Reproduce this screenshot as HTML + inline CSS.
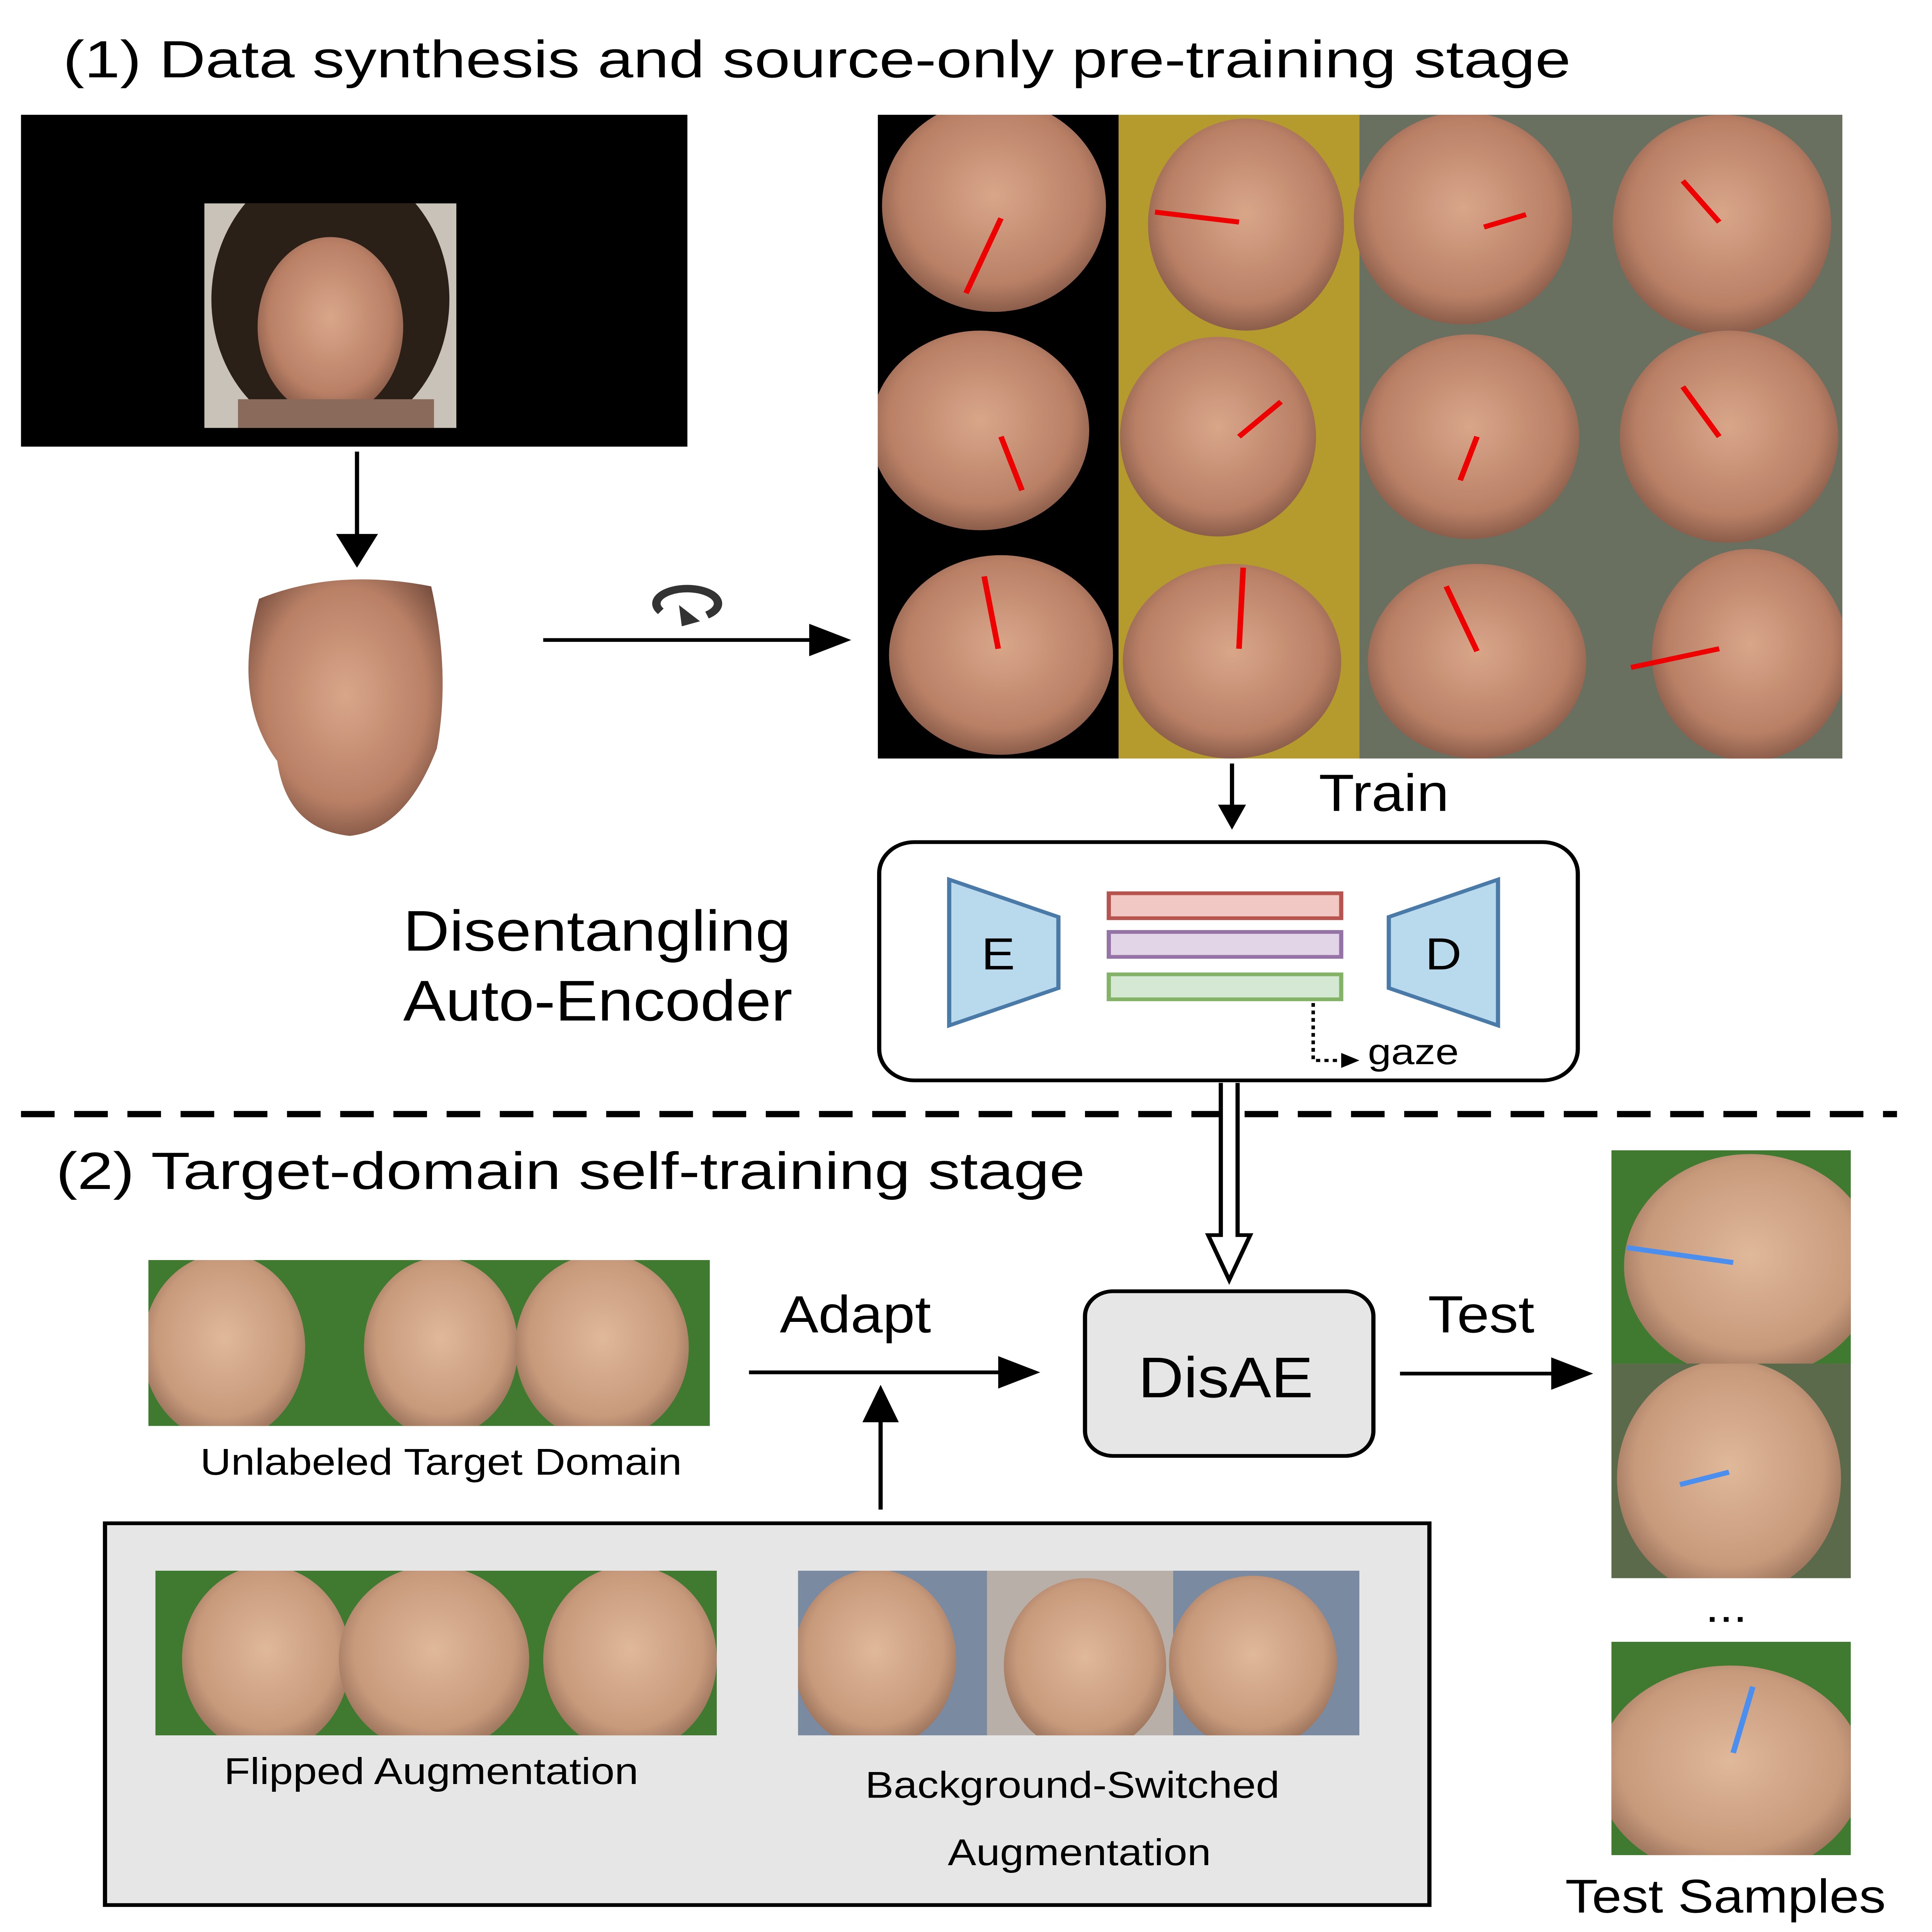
<!DOCTYPE html>
<html><head><meta charset="utf-8"><style>
html,body{margin:0;padding:0;background:#fff;overflow:hidden;width:100%;height:100%}
svg{display:block;position:absolute;left:0;top:0;width:100vw;height:100vh}
text{font-family:"Liberation Sans",Arial,sans-serif;fill:#000}
</style></head><body>
<svg viewBox="0 0 1380 1548.6" preserveAspectRatio="none" xmlns="http://www.w3.org/2000/svg">
<defs>
<radialGradient id="skin" cx="50%" cy="45%" r="60%"><stop offset="0" stop-color="#d9a68a"/><stop offset="0.7" stop-color="#b98066"/><stop offset="1" stop-color="#7a5040"/></radialGradient>
<radialGradient id="skin2" cx="50%" cy="45%" r="60%"><stop offset="0" stop-color="#e0b89a"/><stop offset="0.7" stop-color="#c89a7c"/><stop offset="1" stop-color="#8a6650"/></radialGradient>
<clipPath id="cg"><rect x="627" y="92" width="689" height="516"/></clipPath>
<clipPath id="cu"><rect x="106" y="1010" width="401" height="133"/></clipPath>
<clipPath id="cf"><rect x="111" y="1259" width="401" height="132"/></clipPath>
<clipPath id="cb"><rect x="570" y="1259" width="401" height="132"/></clipPath>
<clipPath id="ct1"><rect x="1151" y="922" width="171" height="171"/></clipPath>
<clipPath id="ct2"><rect x="1151" y="1093" width="171" height="172"/></clipPath>
<clipPath id="ct3"><rect x="1151" y="1316" width="171" height="171"/></clipPath>
<clipPath id="cp"><rect x="146" y="163" width="180" height="180"/></clipPath>
</defs>
<rect width="1380" height="1549" fill="#fff"/>
<text x="45" y="62" font-size="42" textLength="1077" lengthAdjust="spacingAndGlyphs">(1) Data synthesis and source-only pre-training stage</text>
<rect x="15" y="92" width="476" height="266" fill="#000"/>
<g clip-path="url(#cp)">
<rect x="146" y="163" width="180" height="180" fill="#c9c2b8"/>
<ellipse cx="236" cy="240" rx="85" ry="110" fill="#2a2018"/>
<ellipse cx="236" cy="262" rx="52" ry="72" fill="url(#skin)"/>
<rect x="170" y="320" width="140" height="30" fill="#8a6a5a"/>
</g>
<line x1="255" y1="362" x2="255" y2="440" stroke="#000" stroke-width="3"/>
<path d="M240,428 L255,455 L270,428 Z" fill="#000"/>
<path d="M185,480 Q240,455 308,470 Q322,540 312,600 Q290,665 250,670 Q205,665 198,610 Q165,560 185,480 Z" fill="url(#skin)"/>
<line x1="388" y1="513" x2="590" y2="513" stroke="#000" stroke-width="3"/>
<path d="M578,500 L608,513 L578,526 Z" fill="#000"/>
<path d="M472,490 A22,12 0 1 1 505,493" fill="none" stroke="#333" stroke-width="6"/>
<path d="M485,485 L500,498 L487,502 Z" fill="#333"/>
<g clip-path="url(#cg)">
<rect x="627" y="92" width="172" height="516" fill="#000"/>
<rect x="799" y="92" width="172" height="516" fill="#b59a2e"/>
<rect x="971" y="92" width="345" height="516" fill="#6a7060"/>
<g fill="url(#skin)">
<ellipse cx="710" cy="165" rx="80" ry="85"/>
<ellipse cx="700" cy="345" rx="78" ry="80"/>
<ellipse cx="715" cy="525" rx="80" ry="80"/>
<ellipse cx="890" cy="180" rx="70" ry="85"/>
<ellipse cx="870" cy="350" rx="70" ry="80"/>
<ellipse cx="880" cy="530" rx="78" ry="78"/>
<ellipse cx="1045" cy="175" rx="78" ry="85"/>
<ellipse cx="1050" cy="350" rx="78" ry="82"/>
<ellipse cx="1055" cy="530" rx="78" ry="78"/>
<ellipse cx="1230" cy="180" rx="78" ry="88"/>
<ellipse cx="1235" cy="350" rx="78" ry="85"/>
<ellipse cx="1250" cy="525" rx="70" ry="85"/>
</g>
<g stroke="#e00" stroke-width="4" fill="none">
<line x1="715" y1="175" x2="690" y2="235"/>
<line x1="885" y1="178" x2="825" y2="170"/>
<line x1="1060" y1="182" x2="1090" y2="172"/>
<line x1="1228" y1="178" x2="1202" y2="145"/>
<line x1="715" y1="350" x2="730" y2="393"/>
<line x1="885" y1="350" x2="915" y2="322"/>
<line x1="1055" y1="350" x2="1043" y2="385"/>
<line x1="1228" y1="350" x2="1202" y2="310"/>
<line x1="713" y1="520" x2="703" y2="462"/>
<line x1="885" y1="520" x2="888" y2="455"/>
<line x1="1055" y1="522" x2="1033" y2="470"/>
<line x1="1228" y1="520" x2="1165" y2="535"/>
</g>
</g>
<line x1="880" y1="612" x2="880" y2="652" stroke="#000" stroke-width="3"/>
<path d="M870,645 L880,665 L890,645 Z" fill="#000"/>
<text x="942" y="650" font-size="42" textLength="93" lengthAdjust="spacingAndGlyphs">Train</text>
<rect x="628" y="675" width="499" height="191" rx="25" fill="#fff" stroke="#000" stroke-width="3"/>
<path d="M678,705 L756,735 L756,792 L678,822 Z" fill="#b9d9ec" stroke="#4a7aa8" stroke-width="3"/>
<text x="713" y="777" font-size="36" text-anchor="middle">E</text>
<path d="M1070,705 L992,735 L992,792 L1070,822 Z" fill="#b9d9ec" stroke="#4a7aa8" stroke-width="3"/>
<text x="1031" y="777" font-size="36" text-anchor="middle">D</text>
<rect x="792" y="716" width="166" height="20" fill="#f2c8c4" stroke="#b85450" stroke-width="3"/>
<rect x="792" y="747" width="166" height="20" fill="#e1d5e7" stroke="#9673a6" stroke-width="3"/>
<rect x="792" y="781" width="166" height="20" fill="#d5e8d4" stroke="#82b366" stroke-width="3"/>
<path d="M938,804 L938,850 L960,850" fill="none" stroke="#000" stroke-width="2.5" stroke-dasharray="3,3"/>
<path d="M958,844 L971,850 L958,856 Z" fill="#000"/>
<text x="977" y="853" font-size="29" textLength="65" lengthAdjust="spacingAndGlyphs">gaze</text>
<text x="288" y="762" font-size="46" textLength="277" lengthAdjust="spacingAndGlyphs">Disentangling</text>
<text x="288" y="818" font-size="46" textLength="278" lengthAdjust="spacingAndGlyphs">Auto-Encoder</text>
<line x1="15" y1="893" x2="1355" y2="893" stroke="#000" stroke-width="5" stroke-dasharray="24,14"/>
<text x="40" y="953" font-size="42" textLength="735" lengthAdjust="spacingAndGlyphs">(2) Target-domain self-training stage</text>
<path d="M872,868 L872,990 L863,990 L878,1026 L893,990 L884,990 L884,868" fill="#fff" stroke="#000" stroke-width="3"/>
<g clip-path="url(#cu)">
<rect x="106" y="1010" width="401" height="133" fill="#3f7a30"/>
<ellipse cx="160" cy="1080" rx="58" ry="75" fill="url(#skin2)"/>
<ellipse cx="315" cy="1080" rx="55" ry="72" fill="url(#skin2)"/>
<ellipse cx="430" cy="1080" rx="62" ry="75" fill="url(#skin2)"/>
</g>
<text x="143" y="1182" font-size="30" textLength="344" lengthAdjust="spacingAndGlyphs">Unlabeled Target Domain</text>
<line x1="535" y1="1100" x2="725" y2="1100" stroke="#000" stroke-width="3"/>
<path d="M713,1087 L743,1100 L713,1113 Z" fill="#000"/>
<text x="557" y="1068" font-size="42" textLength="108" lengthAdjust="spacingAndGlyphs">Adapt</text>
<line x1="629" y1="1210" x2="629" y2="1130" stroke="#000" stroke-width="3"/>
<path d="M616,1140 L629,1110 L642,1140 Z" fill="#000"/>
<rect x="775" y="1035" width="206" height="132" rx="20" fill="#e6e6e6" stroke="#000" stroke-width="3"/>
<text x="813" y="1120" font-size="46" textLength="125" lengthAdjust="spacingAndGlyphs">DisAE</text>
<line x1="1000" y1="1101" x2="1120" y2="1101" stroke="#000" stroke-width="3"/>
<path d="M1108,1088 L1138,1101 L1108,1114 Z" fill="#000"/>
<text x="1020" y="1068" font-size="42" textLength="76" lengthAdjust="spacingAndGlyphs">Test</text>
<g clip-path="url(#ct1)">
<rect x="1151" y="922" width="171" height="171" fill="#3f7a30"/>
<ellipse cx="1250" cy="1015" rx="90" ry="90" fill="url(#skin2)"/>
</g>
<g clip-path="url(#ct2)">
<rect x="1151" y="1093" width="171" height="172" fill="#5a6a4a"/>
<ellipse cx="1235" cy="1185" rx="80" ry="95" fill="url(#skin2)"/>
</g>
<g clip-path="url(#ct3)">
<rect x="1151" y="1316" width="171" height="171" fill="#3f7a30"/>
<ellipse cx="1236" cy="1420" rx="95" ry="85" fill="url(#skin2)"/>
</g>
<g stroke="#4a8ef0" stroke-width="4">
<line x1="1238" y1="1012" x2="1162" y2="1000"/>
<line x1="1235" y1="1180" x2="1200" y2="1190"/>
<line x1="1238" y1="1405" x2="1252" y2="1352"/>
</g>
<text x="1233" y="1300" font-size="36" text-anchor="middle">...</text>
<text x="1118" y="1533" font-size="38" textLength="229" lengthAdjust="spacingAndGlyphs">Test Samples</text>
<rect x="75" y="1221" width="946" height="306" fill="#e6e6e6" stroke="#000" stroke-width="3"/>
<g clip-path="url(#cf)">
<rect x="111" y="1259" width="401" height="132" fill="#3f7a30"/>
<ellipse cx="190" cy="1330" rx="60" ry="75" fill="url(#skin2)"/>
<ellipse cx="310" cy="1330" rx="68" ry="75" fill="url(#skin2)"/>
<ellipse cx="450" cy="1330" rx="62" ry="75" fill="url(#skin2)"/>
</g>
<text x="160" y="1430" font-size="30" textLength="296" lengthAdjust="spacingAndGlyphs">Flipped Augmentation</text>
<g clip-path="url(#cb)">
<rect x="570" y="1259" width="401" height="132" fill="#7a8aa0"/>
<rect x="705" y="1259" width="133" height="132" fill="#b8b0a8"/>
<ellipse cx="625" cy="1330" rx="58" ry="72" fill="url(#skin2)"/>
<ellipse cx="775" cy="1335" rx="58" ry="70" fill="url(#skin2)"/>
<ellipse cx="895" cy="1333" rx="60" ry="70" fill="url(#skin2)"/>
</g>
<text x="618" y="1441" font-size="30" textLength="296" lengthAdjust="spacingAndGlyphs">Background-Switched</text>
<text x="677" y="1495" font-size="30" textLength="188" lengthAdjust="spacingAndGlyphs">Augmentation</text>
</svg>
</body></html>
